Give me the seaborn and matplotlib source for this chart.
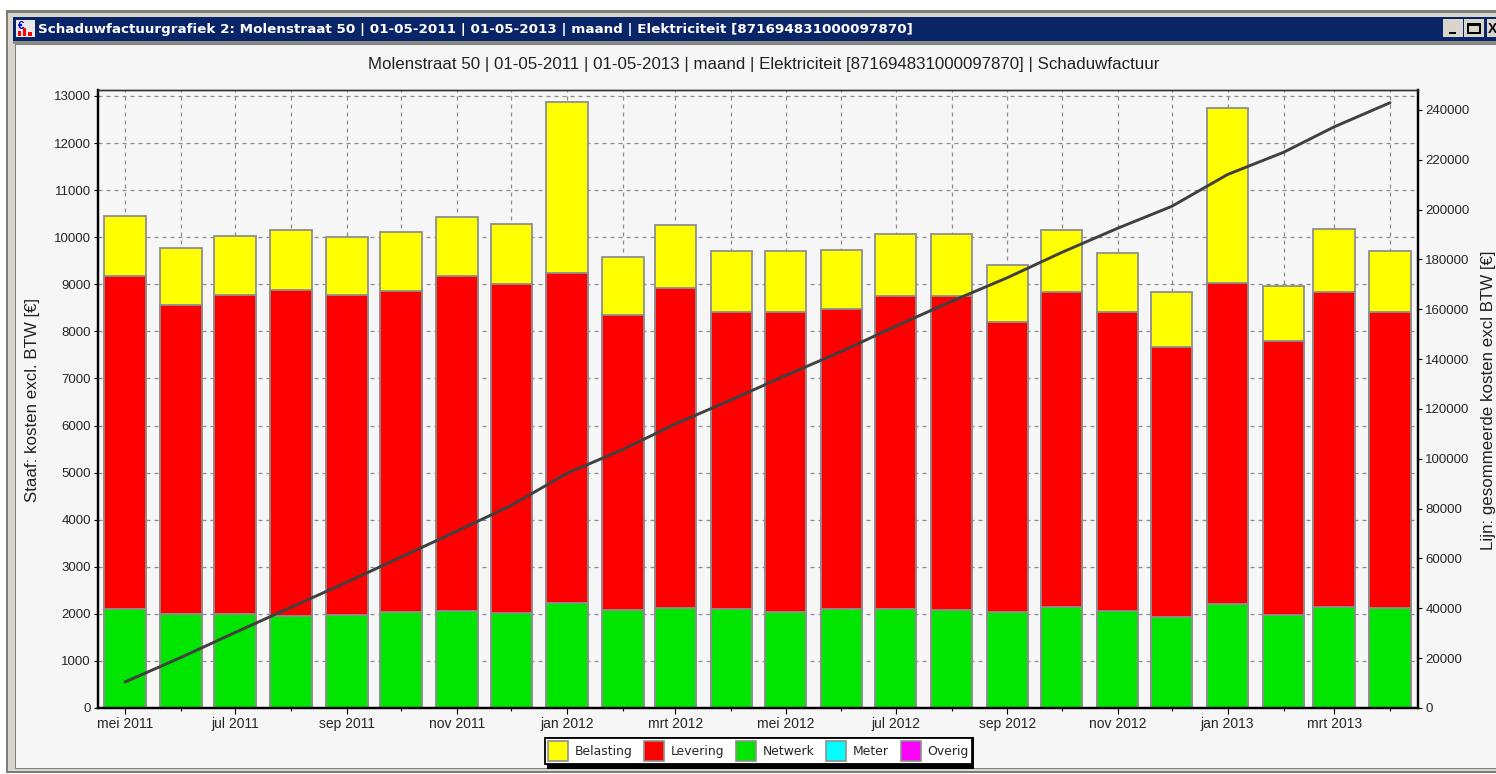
#!/usr/bin/env python3
"""Schaduwfactuur chart inside a recreated application window."""
import matplotlib
matplotlib.use("Agg")
import matplotlib.dates as mdates
import matplotlib.pyplot as plt
import numpy as np
import pandas as pd
import seaborn as sns
from matplotlib.patches import Patch, Rectangle

W, H = 1496, 774

months = pd.date_range("2011-05-01", "2013-04-01", freq="MS")
netwerk = [2100, 2000, 2000, 1960, 1980, 2040, 2060, 2010, 2230, 2090, 2120, 2110,
           2040, 2110, 2110, 2090, 2040, 2150, 2060, 1930, 2210, 1980, 2150, 2120]
levering = [7070, 6550, 6780, 6920, 6800, 6820, 7110, 6990, 7020, 6260, 6800, 6310,
            6380, 6360, 6650, 6660, 6150, 6690, 6360, 5730, 6820, 5810, 6690, 6300]
belasting = [1280, 1230, 1250, 1270, 1230, 1260, 1260, 1290, 3620, 1230, 1350, 1280,
             1280, 1260, 1300, 1310, 1230, 1310, 1250, 1180, 3720, 1180, 1330, 1280]
gesommeerd = [10450, 20300, 30300, 40450, 50500, 60600, 71000, 81300, 94200, 103800,
              114000, 123700, 133400, 143100, 153200, 163200, 172700, 182800, 192500,
              201300, 214100, 223000, 233200, 242900]
month_labels = ["mei 2011", "jul 2011", "sep 2011", "nov 2011", "jan 2012", "mrt 2012",
                "mei 2012", "jul 2012", "sep 2012", "nov 2012", "jan 2013", "mrt 2013"]
legend_names = ["Belasting", "Levering", "Netwerk", "Meter", "Overig"]
legend_colors = ["#ffff00", "#ff0000", "#00e600", "#00ffff", "#ff00ff"]

TITLE = "Molenstraat 50 | 01-05-2011 | 01-05-2013 | maand | Elektriciteit [871694831000097870] | Schaduwfactuur"
WINDOW_TITLE = "Schaduwfactuurgrafiek 2: Molenstraat 50 | 01-05-2011 | 01-05-2013 | maand | Elektriciteit [871694831000097870]"
BG = "#f6f6f6"
EDGE = "#8f8f8f"

sns.set_theme(style="ticks")
plt.rcParams["font.family"] = ["Liberation Sans", "DejaVu Sans"]
plt.rcParams["font.size"] = 10


def win_rect(fig, x0, y0, x1, y1, color, zorder=-5):
    # rectangle given in pixels from the top left of the picture
    fig.add_artist(Rectangle((x0 / W, 1 - y1 / H), (x1 - x0) / W, (y1 - y0) / H,
                             transform=fig.transFigure, facecolor=color,
                             edgecolor="none", zorder=zorder))


def draw_window(fig):
    win_rect(fig, 6, 10, W, 773, "#7c7c78")
    win_rect(fig, 8, 13, W, 771, "#d8d6cc")
    win_rect(fig, 13, 17, W, 41, "#0a2468")
    win_rect(fig, 13, 41, W, 44, "#8a8a86")
    win_rect(fig, 15, 44, W, 769, "#7f7f7c")
    win_rect(fig, 16, 45, W, 768, BG)
    # window icon
    win_rect(fig, 16, 20, 35, 37, "#e8e8e8", zorder=-4)
    win_rect(fig, 18, 31, 21, 36, "#ff0000", zorder=-3)
    win_rect(fig, 23, 28, 26, 36, "#ff0000", zorder=-3)
    win_rect(fig, 28, 32, 32, 36, "#ff0000", zorder=-3)
    fig.text(18 / W, 1 - 26 / H, "€", color="#0000d0", fontsize=8, fontweight="bold",
             va="center", ha="left")
    fig.text(38 / W, 1 - 29 / H, WINDOW_TITLE, color="white", fontsize=9.69,
             fontweight="bold", family="DejaVu Sans", va="center", ha="left")
    # window buttons
    for x0, x1 in [(1443, 1463), (1464, 1484), (1487, 1496)]:
        win_rect(fig, x0, 19, x1, 37, "#d8d6cc", zorder=-4)
    win_rect(fig, 1449, 32, 1456, 34, "black", zorder=-3)
    win_rect(fig, 1467, 23, 1481, 34, "black", zorder=-3)
    win_rect(fig, 1469, 26, 1479, 32, "#d8d6cc", zorder=-2)
    fig.text(1488 / W, 1 - 29 / H, "X", color="black", fontsize=10, fontweight="bold",
             va="center", ha="left")


def main():
    fig = plt.figure(figsize=(W / 100, H / 100), dpi=100, facecolor="white")
    draw_window(fig)

    ax = fig.add_axes([98 / W, 1 - 708 / H, 1320 / W, 618 / H])
    ax.set_facecolor(BG)

    df = pd.DataFrame({
        "x": mdates.date2num(months),
        "Netwerk": netwerk,
        "Levering": levering,
        "Belasting": belasting,
    })
    df["top_levering"] = df["Netwerk"] + df["Levering"]
    df["top_belasting"] = df["top_levering"] + df["Belasting"]

    # back to front, each layer covers the lower part of the one behind it
    for col, color in [("top_belasting", "#ffff00"), ("top_levering", "#ff0000"), ("Netwerk", "#00e600")]:
        sns.barplot(data=df, x="x", y=col, native_scale=True, ax=ax, color=color,
                    saturation=1, width=0.82, edgecolor=EDGE, linewidth=1.3, zorder=2)

    xs = df["x"].to_numpy()
    ax.set_xlim(xs[0] - 15, xs[-1] + 15.5)
    ax.set_ylim(0, 13127)
    ax.set_yticks(np.arange(0, 13001, 1000))
    ax.set_xticks(xs[::2])
    ax.set_xticklabels(month_labels)
    ax.set_xticks(xs[1::2], minor=True)
    ax.tick_params(axis="x", which="major", length=4.3, width=0.8, color="black", labelsize=10, pad=2)
    ax.tick_params(axis="x", which="minor", length=2.5, width=0.8, color="black")
    ax.tick_params(axis="y", length=3.2, width=0.8, color="black", labelsize=9.5, pad=2)
    ax.set_axisbelow(True)
    ax.grid(True, which="both", linestyle=(0, (3.2, 3.2)), color="#8c8c8c", linewidth=0.9)
    ax.set_xlabel("")
    ax.set_ylabel("Staaf: kosten excl. BTW [€]", fontsize=12.2, color="#222222", va="center")
    ax.yaxis.set_label_coords((33 - 98) / 1320, 0.498)
    ax.set_title(TITLE, fontsize=12.2, pad=15, color="#222222", x=0.504)

    ax2 = ax.twinx()
    ax2.set_position(ax.get_position())
    line_df = pd.DataFrame({"x": xs, "y": gesommeerd})
    sns.lineplot(data=line_df, x="x", y="y", ax=ax2, color="#404040", linewidth=2.1,
                 errorbar=None, estimator=None)
    ax2.set_ylim(0, 248000)
    ax2.set_yticks(np.arange(0, 240001, 20000))
    ax2.tick_params(axis="y", length=3.2, width=0.8, color="black", labelsize=9.5, pad=2)
    ax2.set_xlabel("")
    ax2.set_ylabel("Lijn: gesommeerde kosten excl BTW [€]", fontsize=12.2,
                   rotation=90, color="#222222", va="center")
    ax2.yaxis.set_label_coords((1488 - 98) / 1320, 0.498)

    for a in (ax, ax2):
        for s in a.spines.values():
            s.set_visible(True)
            s.set_color("black")
            s.set_linewidth(1.6)
        a.spines["top"].set_linewidth(1)
        a.spines["top"].set_color("#333333")

    # thin drop shadow behind the legend box
    win_rect(fig, 547, 737, 974, 769, "black", zorder=4)
    handles = [Patch(facecolor=c, edgecolor=EDGE, linewidth=1.2) for c in legend_colors]
    leg = fig.legend(handles, legend_names, ncol=5, loc="center", bbox_to_anchor=(758.5 / W, 1 - 751 / H),
                     frameon=True, fancybox=False, framealpha=1, facecolor="white",
                     edgecolor="black", handlelength=1.6, handleheight=2.0, handletextpad=0.55,
                     columnspacing=0.95, borderpad=0.26, borderaxespad=0,
                     prop={"family": "DejaVu Sans", "size": 8.9})
    leg.get_frame().set_linewidth(1.3)

    fig.savefig("out.png", dpi=100)
    plt.close(fig)


if __name__ == "__main__":
    main()
